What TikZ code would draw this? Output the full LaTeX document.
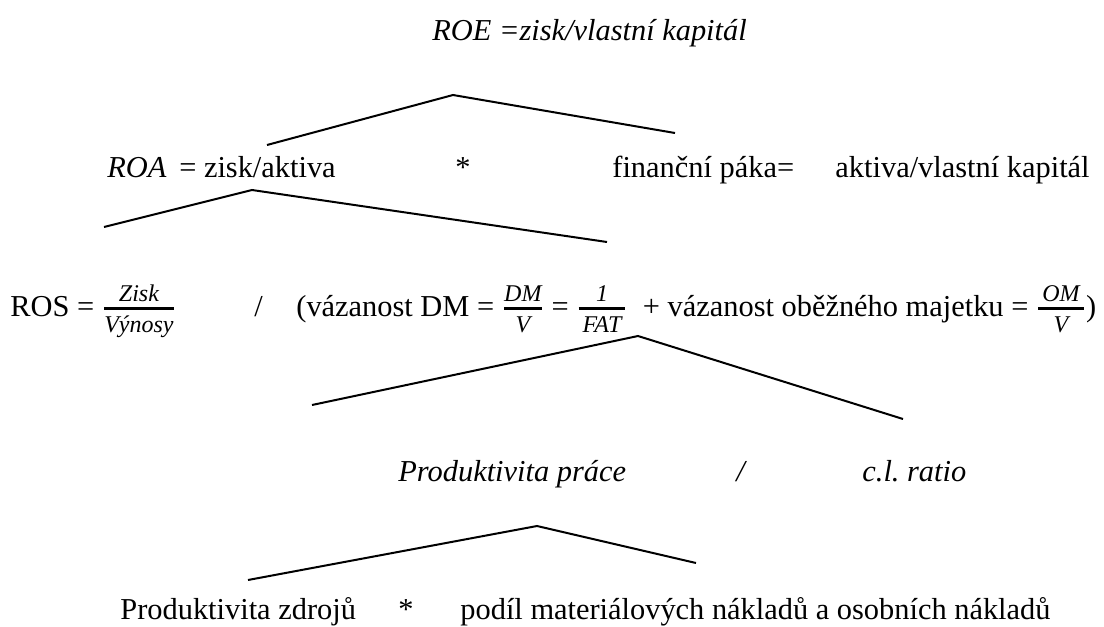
\documentclass[tikz,border=0pt]{standalone}
\usepackage{amsmath}
\usepackage{fontspec}
\setmainfont{Liberation Serif}
\usetikzlibrary{positioning}

\newcommand{\zlomek}[2]{\ensuremath{\genfrac{}{}{1.4pt}{1}{\text{\fontsize{12}{13}\selectfont\itshape #1}\rule[-1.5pt]{0pt}{1.5pt}}{\rule{0pt}{9.5pt}\text{\fontsize{12}{13}\selectfont\itshape #2}}}}

\begin{document}
\begin{tikzpicture}[x=0.5pt,y=-0.5pt]
    \tikzset{txt/.style = {anchor=base west, inner sep=0pt, font=\fontsize{15.2}{18}\selectfont}}
    \tikzset{vetev/.style = {draw, line width=1pt, -}}
    \useasboundingbox (0,0) rectangle (1104,627);

    % uroven 1
    \node[txt] (roe) at (432,40) {\textit{ROE =zisk/vlastní kapitál}};

    % uroven 2
    \node[txt] (roa) at (107,177) {\textit{ROA}\, = zisk/aktiva};
    \node[txt] (krat1) at (455,177) {*};
    \node[txt] (paka) at (612,177) {finanční páka=};
    \node[txt, anchor=base east] (pakaV) at (1090,177) {aktiva/vlastní kapitál};

    % uroven 3
    \node[txt] (ros) at (10,316) {ROS = \zlomek{\,Zisk\,}{Výnosy}};
    \node[txt] (lomeno1) at (254,316) {/};
    \node[txt] (vazanost) at (296,316) {(vázanost DM = \zlomek{DM}{V} = \zlomek{\;1\;}{\,FAT\,}\ \ + vázanost oběžného majetku = \zlomek{\,OM\,}{V})};

    % uroven 4
    \node[txt] (prace) at (398,481) {\textit{Produktivita práce}};
    \node[txt] (lomeno2) at (736,481) {\textit{/}};
    \node[txt] (ratio) at (862,481) {\textit{c.l.\ ratio}};

    % uroven 5
    \node[txt] (zdroje) at (120,619) {Produktivita zdrojů};
    \node[txt] (krat2) at (398,619) {*};
    \node[txt] (podil) at (460,619) {podíl materiálových nákladů a osobních nákladů};

    % vetve
    \coordinate (v1) at (453,95);
    \coordinate (v1l) at (267,145);
    \coordinate (v1p) at (675,133);
    \coordinate (v2) at (252,190);
    \coordinate (v2l) at (104,227);
    \coordinate (v2p) at (607,242);
    \coordinate (v3) at (638,336);
    \coordinate (v3l) at (312,405);
    \coordinate (v3p) at (903,419);
    \coordinate (v4) at (537,526);
    \coordinate (v4l) at (248,580);
    \coordinate (v4p) at (696,563);

    \draw[vetev] (v1l) -- (v1) -- (v1p);
    \draw[vetev] (v2l) -- (v2) -- (v2p);
    \draw[vetev] (v3l) -- (v3) -- (v3p);
    \draw[vetev] (v4l) -- (v4) -- (v4p);
\end{tikzpicture}
\end{document}
